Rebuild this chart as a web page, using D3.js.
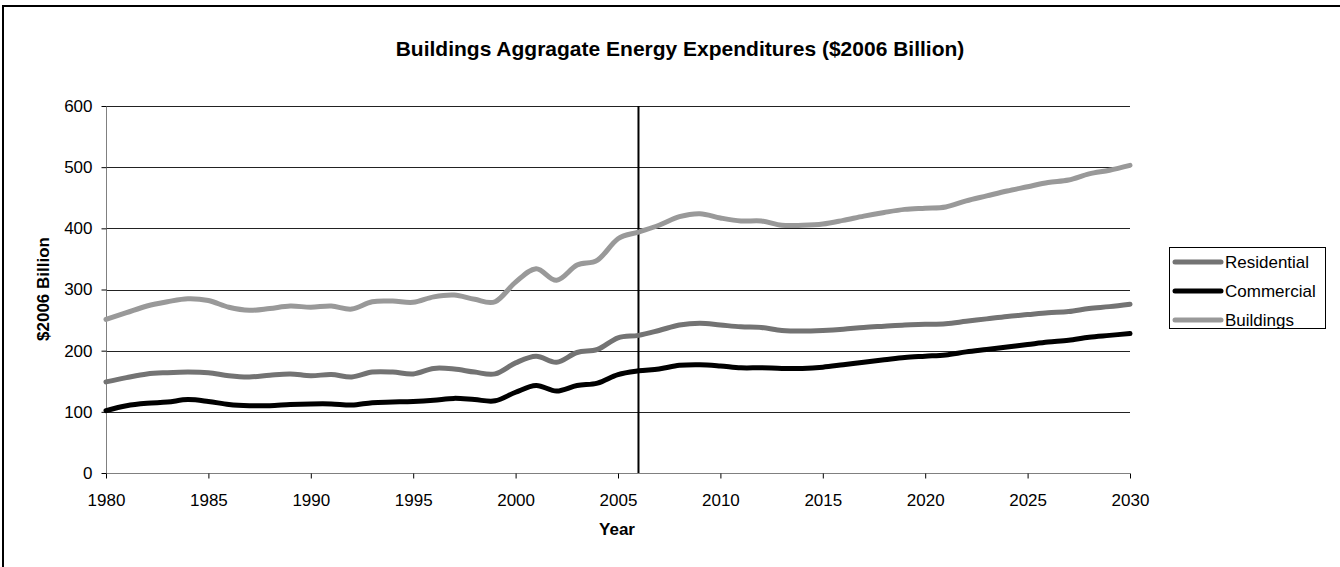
<!DOCTYPE html>
<html><head><meta charset="utf-8">
<script src="https://cdn.jsdelivr.net/npm/d3@7"></script>
<style>body{margin:0;background:#fff;} svg{display:block;font-family:"Liberation Sans",Arial,sans-serif;}</style>
</head><body>
<svg id="c" width="1340" height="567"></svg>
<script>
const years = [1980,1981,1982,1983,1984,1985,1986,1987,1988,1989,1990,1991,1992,1993,1994,1995,1996,1997,1998,1999,2000,2001,2002,2003,2004,2005,2006,2007,2008,2009,2010,2011,2012,2013,2014,2015,2016,2017,2018,2019,2020,2021,2022,2023,2024,2025,2026,2027,2028,2029,2030];
const residential = [149,156,162,164,165,164,159,157,160,162,159,161,157,165,165,162,171,170,165,162,180,191,181,197,202,221,225,233,242,245,242,239,238,233,232,233,235,238,240,242,243,244,248,252,256,259,262,264,269,272,276];
const commercial = [102,110,114,116,120,117,112,110,110,112,113,113,111,115,116,117,119,122,120,118,132,143,134,143,147,161,167,170,176,177,175,172,172,171,171,173,177,181,185,189,191,193,198,202,206,210,214,217,222,225,228];
const buildings = [251,262,273,280,285,282,271,266,269,273,271,273,268,280,281,279,288,291,284,280,312,334,315,340,348,383,394,405,419,424,417,412,412,405,405,407,413,420,426,431,433,435,445,453,461,468,475,479,489,495,503];
const xTicks = [1980,1985,1990,1995,2000,2005,2010,2015,2020,2025,2030];
const yTicks = [0,100,200,300,400,500,600];
const markerYear = 2006;
const seriesNames = ["Residential","Commercial","Buildings"];
const seriesColors = ["#737373","#000000","#999999"];
const seriesValues = [residential, commercial, buildings];

const FONT = "Liberation Sans, Arial, sans-serif";
const svg = d3.select("#c");
const L = 106, R = 1130, T = 106, B = 473;
const x = d3.scaleLinear().domain([1980,2030]).range([L,R]);
const y = d3.scaleLinear().domain([0,600]).range([B,T]);

// outer border
svg.append("rect").attr("x",3).attr("y",6).attr("width",1345).attr("height",600)
  .attr("fill","none").attr("stroke","#000").attr("stroke-width",2);

// gridlines
svg.append("g").selectAll("line").data(yTicks.filter(d=>d>0)).join("line")
  .attr("x1",L).attr("x2",R).attr("y1",d=>Math.round(y(d))+0.5).attr("y2",d=>Math.round(y(d))+0.5)
  .attr("stroke","#222").attr("stroke-width",1);

// y axis
const ya = svg.append("g").attr("transform",`translate(${L+0.5},0)`)
  .call(d3.axisLeft(y).tickValues(yTicks).tickSize(5).tickPadding(9).tickFormat(d3.format("d")));
ya.select(".domain").attr("stroke","#808080").attr("d",`M0,${T}V${B}`);
ya.selectAll(".tick line").attr("stroke","#000");
ya.selectAll(".tick text").attr("font-size",17).attr("fill","#000").attr("font-family",FONT);

// x axis
const xa = svg.append("g").attr("transform",`translate(0,${B+0.5})`)
  .call(d3.axisBottom(x).tickValues(xTicks).tickSize(5).tickPadding(15).tickFormat(d3.format("d")));
xa.select(".domain").attr("stroke","#808080").attr("d",`M${L},0H${R}`);
xa.selectAll(".tick line").attr("stroke","#000");
xa.selectAll(".tick text").attr("font-size",17).attr("fill","#000").attr("font-family",FONT);

// marker line
svg.append("line").attr("x1",x(markerYear)).attr("x2",x(markerYear)).attr("y1",T).attr("y2",B)
  .attr("stroke","#000").attr("stroke-width",2);

// series
const line = d3.line().x((d,i)=>x(years[i])).y(d=>y(d)).curve(d3.curveCatmullRom.alpha(0));
seriesValues.forEach((vals,k)=>{
  svg.append("path").datum(vals).attr("d",line).attr("fill","none")
    .attr("stroke",seriesColors[k]).attr("stroke-width",5).attr("stroke-linejoin","round").attr("stroke-linecap","round");
});

// title
svg.append("text").attr("x",680).attr("y",56).attr("text-anchor","middle")
  .attr("font-size",21).attr("font-weight","bold").text("Buildings Aggragate Energy Expenditures ($2006 Billion)");
// axis titles
svg.append("text").attr("x",617).attr("y",535).attr("text-anchor","middle")
  .attr("font-size",17).attr("font-weight","bold").text("Year");
svg.append("text").attr("transform","translate(49,289) rotate(-90)").attr("text-anchor","middle")
  .attr("font-size",17).attr("font-weight","bold").text("$2006 Billion");

// legend
const lg = svg.append("g");
lg.append("rect").attr("x",1169.5).attr("y",247.5).attr("width",156).attr("height",81)
  .attr("fill","#fff").attr("stroke","#000").attr("stroke-width",1);
seriesNames.forEach((n,k)=>{
  const cy = 262 + k*29;
  lg.append("line").attr("x1",1175).attr("x2",1221).attr("y1",cy).attr("y2",cy)
    .attr("stroke",seriesColors[k]).attr("stroke-width",5).attr("stroke-linecap","round");
  lg.append("text").attr("x",1225).attr("y",cy+6).attr("font-size",17).text(n);
});
</script>
</body></html>
